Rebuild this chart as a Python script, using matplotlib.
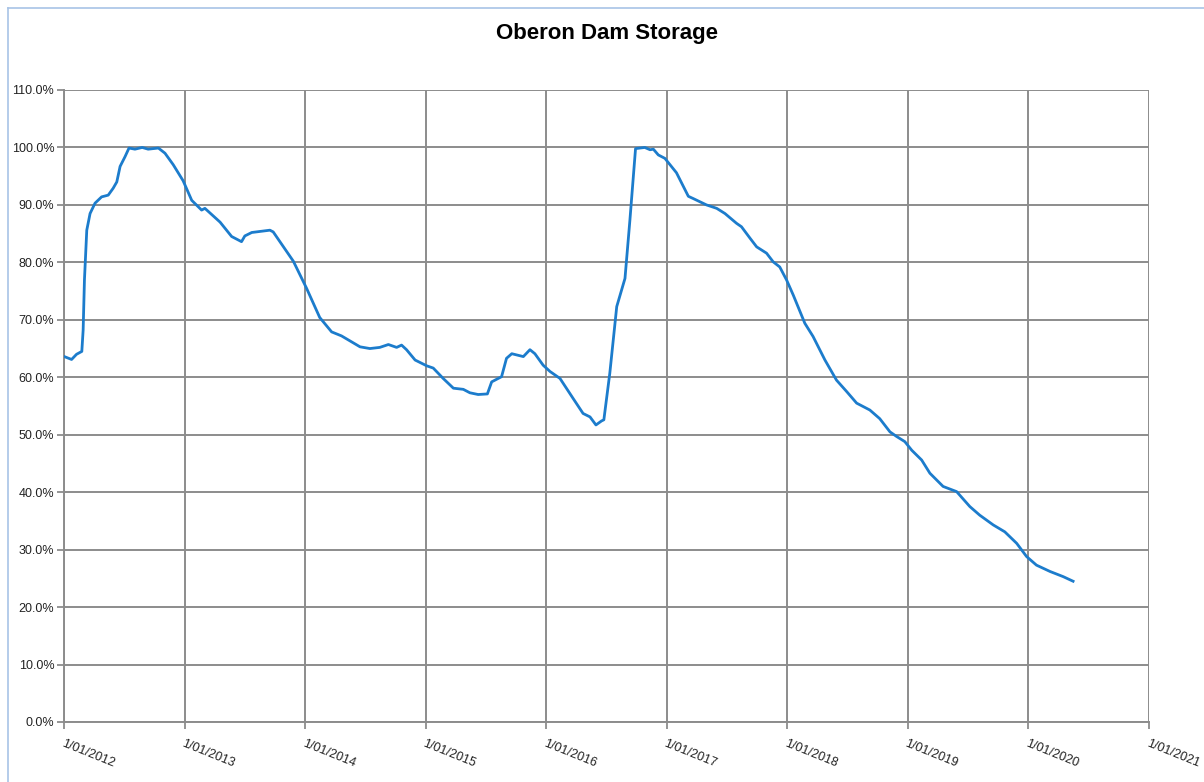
import matplotlib
matplotlib.use("Agg")
import matplotlib.pyplot as plt
import matplotlib.dates as mdates
from matplotlib.lines import Line2D
import numpy as np
import pandas as pd

# storage readings picked off the chart (% full)
dates = [
    "2012-01-02", "2012-01-24", "2012-02-08", "2012-02-24", "2012-02-28", "2012-03-03",
    "2012-03-10", "2012-03-20", "2012-04-04", "2012-04-24", "2012-05-14", "2012-05-29",
    "2012-06-09", "2012-06-19", "2012-07-04", "2012-07-16", "2012-08-03", "2012-08-25",
    "2012-09-12", "2012-10-13", "2012-11-02", "2012-11-27", "2012-12-27", "2013-01-22",
    "2013-02-21", "2013-03-03", "2013-04-18", "2013-05-23", "2013-06-22", "2013-07-02",
    "2013-07-23", "2013-09-16", "2013-09-26", "2013-11-26", "2014-01-05", "2014-02-14",
    "2014-03-22", "2014-04-21", "2014-06-16", "2014-07-16", "2014-08-15", "2014-09-10",
    "2014-10-05", "2014-10-20", "2014-11-04", "2014-11-30", "2015-01-04", "2015-01-24",
    "2015-02-23", "2015-03-26", "2015-04-25", "2015-05-15", "2015-06-09", "2015-07-07",
    "2015-07-20", "2015-08-19", "2015-09-03", "2015-09-19", "2015-10-24", "2015-11-13",
    "2015-11-28", "2015-12-23", "2016-01-13", "2016-02-12", "2016-03-23", "2016-04-22",
    "2016-05-13", "2016-05-31", "2016-06-17", "2016-06-24", "2016-07-12", "2016-08-02",
    "2016-08-27", "2016-09-11", "2016-09-28", "2016-10-26", "2016-11-11", "2016-11-21",
    "2016-12-06", "2016-12-26", "2017-01-30", "2017-03-07", "2017-03-22", "2017-05-01",
    "2017-06-01", "2017-06-26", "2017-07-31", "2017-08-15", "2017-09-10", "2017-09-30",
    "2017-10-30", "2017-11-19", "2017-12-09", "2017-12-30", "2018-01-19", "2018-02-23",
    "2018-03-20", "2018-04-25", "2018-05-30", "2018-06-30", "2018-07-30", "2018-09-08",
    "2018-10-08", "2018-11-08", "2018-11-28", "2018-12-23", "2019-01-13", "2019-02-12",
    "2019-03-09", "2019-04-18", "2019-05-29", "2019-07-08", "2019-08-07", "2019-09-17",
    "2019-10-22", "2019-11-27", "2019-12-27", "2020-01-26", "2020-03-07", "2020-04-16",
    "2020-05-16",
]
storage = [
    63.6, 63.1, 64.0, 64.5, 68.2, 77.0,
    85.6, 88.5, 90.3, 91.4, 91.7, 92.9,
    94.0, 96.7, 98.4, 99.9, 99.7, 100.0,
    99.7, 99.9, 99.0, 97.0, 94.2, 90.8,
    89.1, 89.4, 87.0, 84.5, 83.6, 84.6,
    85.2, 85.6, 85.3, 80.2, 75.5, 70.4,
    67.9, 67.2, 65.3, 65.0, 65.2, 65.7,
    65.2, 65.6, 64.8, 63.0, 62.0, 61.6,
    59.8, 58.1, 57.9, 57.3, 57.0, 57.1,
    59.2, 60.1, 63.3, 64.1, 63.6, 64.8,
    64.1, 62.1, 61.0, 59.8, 56.3, 53.7,
    53.1, 51.7, 52.4, 52.6, 60.7, 72.3,
    77.2, 87.4, 99.8, 100.0, 99.6, 99.7,
    98.7, 98.1, 95.6, 91.5, 91.1, 90.0,
    89.4, 88.5, 86.8, 86.2, 84.2, 82.7,
    81.6, 80.1, 79.2, 76.9, 74.3, 69.4,
    67.1, 63.0, 59.5, 57.5, 55.5, 54.3,
    52.8, 50.5, 49.7, 48.8, 47.3, 45.6,
    43.3, 41.0, 40.1, 37.5, 36.0, 34.3,
    33.1, 31.1, 28.8, 27.3, 26.2, 25.3,
    24.5,
]
yticks = np.arange(0, 111, 10)

plt.rcParams['font.family'] = ['Liberation Sans', 'DejaVu Sans']

x = pd.to_datetime(dates)

fig = plt.figure(figsize=(12.04, 7.82), dpi=100)
ax = fig.add_axes([64/1204, 1 - 722/782, (1149 - 64)/1204, (722 - 90)/782])

grid_c = '#8c8c8c'
ax.plot(x, storage, color='#1c7ccc', lw=2.0, zorder=3)

ax.set_xlim(pd.Timestamp("2012-01-01"), pd.Timestamp("2021-01-01"))
ax.set_ylim(0, 110)
ax.set_yticks(yticks)
ax.set_yticklabels(['%.1f%%' % v for v in yticks])

ax.xaxis.set_major_locator(mdates.YearLocator())
ax.xaxis.set_major_formatter(mdates.DateFormatter('1/01/%Y'))
for lab in ax.get_xticklabels():
    lab.set_rotation(-22)
    lab.set_ha('left')
    lab.set_va('top')
    lab.set_rotation_mode('anchor')

ax.grid(True, color=grid_c, lw=1.4)
ax.set_axisbelow(True)
for side in ['top', 'right']:
    ax.spines[side].set_visible(False)
for side in ['left', 'bottom']:
    ax.spines[side].set_color(grid_c)
    ax.spines[side].set_linewidth(1.4)
ax.tick_params(axis='both', colors=grid_c, length=5, width=1.3, labelsize=9,
               labelcolor='#222222')
ax.tick_params(axis='x', pad=6)
ax.tick_params(axis='y', pad=2)

fig.text(0.504, 1 - 33/782, 'Oberon Dam Storage', ha='center', va='center',
         fontsize=16, fontweight='bold')

# light chart-area border along the top and left edges
fig.add_artist(Line2D([8/1204, 8/1204], [0, 1 - 8/782], color='#a8c3e6', lw=1.2))
fig.add_artist(Line2D([8/1204, 1], [1 - 8/782, 1 - 8/782], color='#a8c3e6', lw=1.2))

fig.savefig('out.png', dpi=100)
